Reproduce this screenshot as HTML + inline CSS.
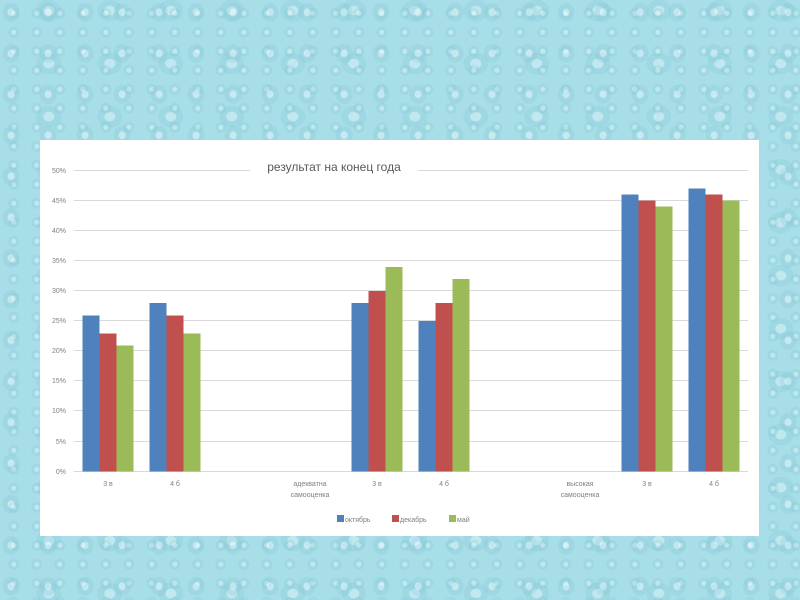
<!DOCTYPE html>
<html><head><meta charset="utf-8"><style>
html,body{margin:0;padding:0;width:800px;height:600px;overflow:hidden}
body{background-color:#a8dee8;
background-image:
radial-gradient(ellipse at 30% 30%, rgba(255,255,255,.35) 0 3px, rgba(130,195,210,.25) 4px 8px, transparent 9px),
radial-gradient(circle at 60% 70%, rgba(255,255,255,.3) 0 2px, rgba(120,190,205,.2) 3px 5px, transparent 6px),
radial-gradient(ellipse at 80% 20%, rgba(255,255,255,.3) 0 5px, rgba(120,190,205,.2) 6px 12px, transparent 13px);
background-size:37px 41px,23px 19px,61px 53px;}
svg{position:absolute;left:0;top:0}
</style></head><body>
<svg width="800" height="600" xmlns="http://www.w3.org/2000/svg" font-family="Liberation Sans, sans-serif">
<rect x="40" y="140" width="719" height="396" fill="#fff"/>
<g stroke="#d9d9d9" stroke-width="1">
<line x1="74" y1="170.5" x2="748" y2="170.5"/><line x1="74" y1="200.5" x2="748" y2="200.5"/>
<line x1="74" y1="230.5" x2="748" y2="230.5"/><line x1="74" y1="260.5" x2="748" y2="260.5"/>
<line x1="74" y1="290.5" x2="748" y2="290.5"/><line x1="74" y1="320.5" x2="748" y2="320.5"/>
<line x1="74" y1="350.5" x2="748" y2="350.5"/><line x1="74" y1="380.5" x2="748" y2="380.5"/>
<line x1="74" y1="410.5" x2="748" y2="410.5"/><line x1="74" y1="441.5" x2="748" y2="441.5"/>
<line x1="74" y1="471.5" x2="748" y2="471.5"/>
</g>
<rect x="250" y="156" width="168" height="18" fill="#fff"/>
<text x="334" y="171" font-size="12" fill="#595959" text-anchor="middle">результат на конец года</text>
<g font-size="7" fill="#7f7f7f" text-anchor="end">
<text x="66" y="173">50%</text><text x="66" y="203">45%</text><text x="66" y="233">40%</text>
<text x="66" y="263">35%</text><text x="66" y="293">30%</text><text x="66" y="323">25%</text>
<text x="66" y="353">20%</text><text x="66" y="383">15%</text><text x="66" y="413">10%</text>
<text x="66" y="444">5%</text><text x="66" y="474">0%</text>
</g>
<g>
<rect x="82.5" y="315.5" width="17" height="156" fill="#4f81bd"/><rect x="99.5" y="333.5" width="17" height="138" fill="#c0504d"/><rect x="116.5" y="345.5" width="17" height="126" fill="#9bbb59"/>
<rect x="149.5" y="303" width="17" height="168.5" fill="#4f81bd"/><rect x="166.5" y="315.5" width="17" height="156" fill="#c0504d"/><rect x="183.5" y="333.5" width="17" height="138" fill="#9bbb59"/>
<rect x="351.5" y="303" width="17" height="168.5" fill="#4f81bd"/><rect x="368.5" y="291" width="17" height="180.5" fill="#c0504d"/><rect x="385.5" y="267" width="17" height="204.5" fill="#9bbb59"/>
<rect x="418.5" y="321" width="17" height="150.5" fill="#4f81bd"/><rect x="435.5" y="303" width="17" height="168.5" fill="#c0504d"/><rect x="452.5" y="279" width="17" height="192.5" fill="#9bbb59"/>
<rect x="621.5" y="194.5" width="17" height="277" fill="#4f81bd"/><rect x="638.5" y="200.5" width="17" height="271" fill="#c0504d"/><rect x="655.5" y="206.5" width="17" height="265" fill="#9bbb59"/>
<rect x="688.5" y="188.5" width="17" height="283" fill="#4f81bd"/><rect x="705.5" y="194.5" width="17" height="277" fill="#c0504d"/><rect x="722.5" y="200.5" width="17" height="271" fill="#9bbb59"/>
</g>
<g font-size="7" fill="#7f7f7f" text-anchor="middle">
<text x="108" y="486">3 в</text><text x="175" y="486">4 б</text>
<text x="310" y="486">адекватна</text><text x="310" y="497">самооценка</text>
<text x="377" y="486">3 в</text><text x="444" y="486">4 б</text>
<text x="580" y="486">высокая</text><text x="580" y="497">самооценка</text>
<text x="647" y="486">3 в</text><text x="714" y="486">4 б</text>
</g>
<g font-size="7" fill="#7f7f7f">
<rect x="337" y="515" width="7" height="7" fill="#4f81bd"/><text x="345" y="522">октябрь</text>
<rect x="392" y="515" width="7" height="7" fill="#c0504d"/><text x="400" y="522">декабрь</text>
<rect x="449" y="515" width="7" height="7" fill="#9bbb59"/><text x="457" y="522">май</text>
</g>
</svg>
</body></html>
